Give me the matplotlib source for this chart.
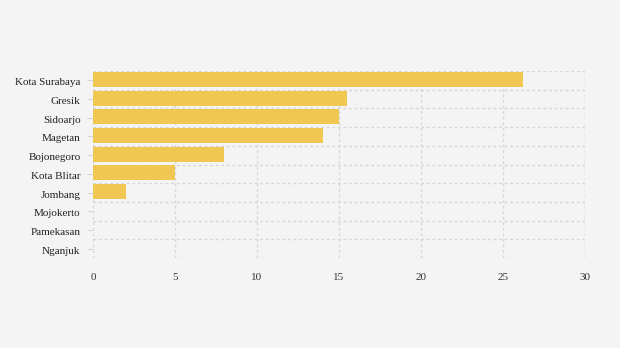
import matplotlib

matplotlib.use("Agg")

import matplotlib.pyplot as plt
import matplotlib.transforms as mtransforms
import numpy as np

regions = [
    "Kota Surabaya",
    "Gresik",
    "Sidoarjo",
    "Magetan",
    "Bojonegoro",
    "Kota Blitar",
    "Jombang",
    "Mojokerto",
    "Pamekasan",
    "Nganjuk",
]
values = [26.2, 15.5, 15.0, 14.0, 8.0, 5.0, 2.0, 0, 0, 0]
x_ticks = [0, 5, 10, 15, 20, 25, 30]

plt.rcParams["font.family"] = ["Liberation Serif", "DejaVu Serif"]

BG = "#f4f4f4"
GRID = "#d6d6d6"

fig = plt.figure(figsize=(6.2, 3.48), dpi=100, facecolor=BG)
ax = fig.add_axes([93 / 620, 1 - 258 / 348, (585 - 93) / 620, (258 - 71) / 348])
ax.set_facecolor(BG)

y = np.arange(len(regions))
ax.barh(y - 0.05, values, height=0.8, color="#f0c752", zorder=2)

ax.set_xlim(0, 30)
ax.set_ylim(len(regions) - 0.5, -0.5)
ax.set_xticks(x_ticks)
ax.set_yticks(y)
ax.set_yticklabels(regions)
ax.set_yticks(np.arange(len(regions) + 1) - 0.5, minor=True)

ax.grid(axis="x", which="major", color=GRID, linestyle=(0, (2, 2)), linewidth=1, zorder=0)
ax.grid(axis="y", which="minor", color=GRID, linestyle=(0, (2, 2)), linewidth=1, zorder=0)
ax.grid(axis="y", which="major", visible=False)

for s in ax.spines.values():
    s.set_visible(False)
ax.axvline(30, color=GRID, linestyle=(0, (2, 2)), linewidth=1, zorder=0)

ax.tick_params(axis="x", length=0, pad=10.5, labelsize=8, labelcolor="#333333")
ax.tick_params(axis="y", which="major", length=4, color=GRID, pad=5, labelsize=8, labelcolor="#222222")
ax.tick_params(axis="y", which="minor", length=0)

# nudge the category labels down a little
shift = mtransforms.ScaledTranslation(0, -1.5 / 100, fig.dpi_scale_trans)
for lbl in ax.get_yticklabels():
    lbl.set_transform(lbl.get_transform() + shift)

fig.savefig("out.png", dpi=100, facecolor=BG)
